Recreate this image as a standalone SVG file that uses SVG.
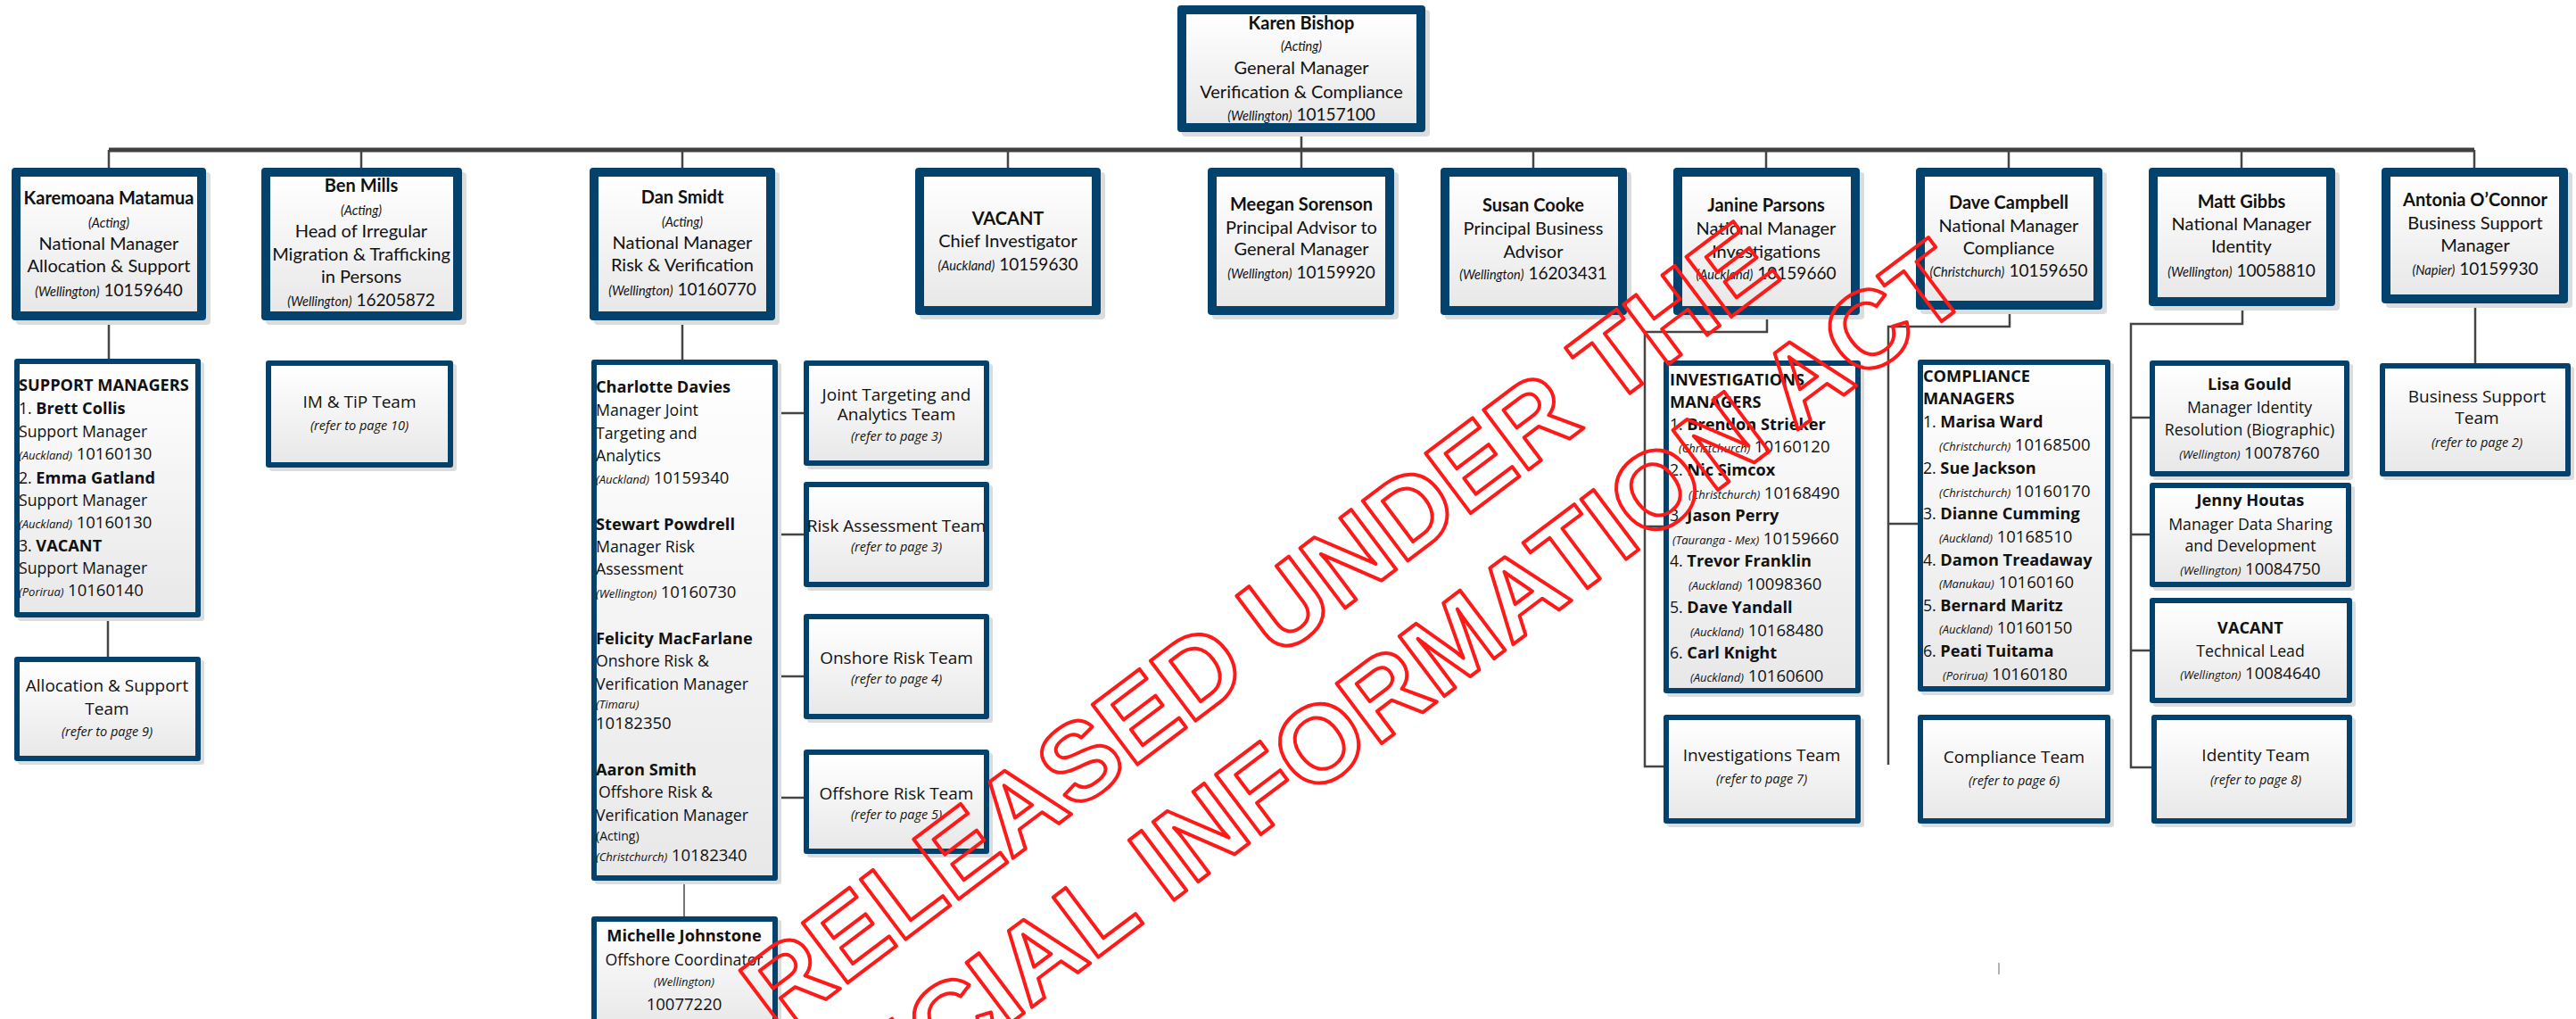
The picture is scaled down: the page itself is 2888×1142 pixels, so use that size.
<svg xmlns="http://www.w3.org/2000/svg" width="2888" height="1142" viewBox="0 0 2888 1142">
<defs>
<linearGradient id="g" x1="0" y1="0" x2="0" y2="1">
<stop offset="0" stop-color="#ffffff"/>
<stop offset="1" stop-color="#e8e8e8"/>
</linearGradient>
<style>
.sh{fill:#dcdcdc}
.ob{fill:#02426c}
.ib{fill:url(#g)}
.ln{stroke:#454545;stroke-width:2.5;fill:none}
.bus{stroke:#404040;stroke-width:5;fill:none}
text{fill:#111}
.c{font-family:Lato,"Liberation Sans",sans-serif;font-size:20px;text-anchor:middle}
.cb{font-weight:bold}
.ci{font-style:italic;font-size:14.5px}
.cd{font-size:19px}
.s{font-family:"Open Sans","Noto Sans",sans-serif;font-size:17.7px}
.m{text-anchor:middle}
.sb{font-weight:bold;font-size:18.2px}
.si{font-style:italic;font-size:13px}
.sd{font-size:18.5px}
.tm{font-size:19px}
.tm .si{font-size:14.5px}
.wm{font-family:"Liberation Sans",Arial,sans-serif;font-weight:bold;font-size:122px;fill:none;stroke:#ff1a1a;stroke-width:4;stroke-linejoin:round;text-anchor:middle}
</style>
</defs>
<rect width="2888" height="1142" fill="#ffffff"/>

<g id="connectors">
<path class="ln" d="M1459 148V168"/>
<path class="bus" d="M122 168H2774"/>
<path class="ln" d="M122 168V188M405 168V188M765 168V188M1130 168V188M1459 168V188M1719 168V188M1980 168V188M2252 168V188M2513 168V188M2774 168V188"/>
<path class="ln" d="M122 359V402M121 692V736"/>
<path class="ln" d="M765 359V403"/>
<path class="ln" d="M767 987V1027" style="stroke:#777;stroke-width:2"/>
<path class="ln" d="M872 463H901M872 599H901M872 758H901M872 894H901"/>
<path class="ln" d="M1981 353V372H1844V859H1866M1844 590H1866"/>
<path class="ln" d="M2253 347V366H2117V857M2117 587H2150"/>
<path class="ln" d="M2514 343V363H2389V860H2412M2389 468H2410M2389 599H2410M2389 729H2410"/>
<path class="ln" d="M2775 340V407"/>
<path d="M2241 1079V1092" stroke="#999" stroke-width="1.5"/>
</g>

<g id="n-karen">
<rect class="sh" x="1325" y="11" width="278" height="142" rx="4"/>
<rect class="ob" x="1320" y="6" width="278" height="142" rx="4"/>
<rect class="ib" x="1330" y="16" width="258" height="122"/>
<text class="c"><tspan class="cb" x="1459" y="33">Karen Bishop</tspan><tspan class="ci" x="1459" y="57">(Acting)</tspan><tspan x="1459" y="83">General Manager</tspan><tspan x="1459" y="110">Verification &amp; Compliance</tspan></text>
<text class="c" x="1459" y="135"><tspan class="ci">(Wellington)</tspan> <tspan class="cd">10157100</tspan></text>
</g>

<g id="n-karemoana">
<rect class="sh" x="18" y="193" width="218" height="171" rx="4"/>
<rect class="ob" x="13" y="188" width="218" height="171" rx="4"/>
<rect class="ib" x="23" y="198" width="198" height="151"/>
<text class="c"><tspan class="cb" x="122" y="229">Karemoana Matamua</tspan><tspan class="ci" x="122" y="255">(Acting)</tspan><tspan x="122" y="280">National Manager</tspan><tspan x="122" y="305">Allocation &amp; Support</tspan></text>
<text class="c" x="122" y="332"><tspan class="ci">(Wellington)</tspan> <tspan class="cd">10159640</tspan></text>
</g>

<g id="n-ben">
<rect class="sh" x="298" y="193" width="225" height="171" rx="4"/>
<rect class="ob" x="293" y="188" width="225" height="171" rx="4"/>
<rect class="ib" x="303" y="198" width="205" height="151"/>
<text class="c"><tspan class="cb" x="405" y="215">Ben Mills</tspan><tspan class="ci" x="405" y="241">(Acting)</tspan><tspan x="405" y="266">Head of Irregular</tspan><tspan x="405" y="292">Migration &amp; Trafficking</tspan><tspan x="405" y="317">in Persons</tspan></text>
<text class="c" x="405" y="343"><tspan class="ci">(Wellington)</tspan> <tspan class="cd">16205872</tspan></text>
</g>

<g id="n-dan">
<rect class="sh" x="666" y="193" width="208" height="171" rx="4"/>
<rect class="ob" x="661" y="188" width="208" height="171" rx="4"/>
<rect class="ib" x="671" y="198" width="188" height="151"/>
<text class="c"><tspan class="cb" x="765" y="228">Dan Smidt</tspan><tspan class="ci" x="765" y="254">(Acting)</tspan><tspan x="765" y="279">National Manager</tspan><tspan x="765" y="304">Risk &amp; Verification</tspan></text>
<text class="c" x="765" y="331"><tspan class="ci">(Wellington)</tspan> <tspan class="cd">10160770</tspan></text>
</g>

<g id="n-vacant-ci">
<rect class="sh" x="1031" y="193" width="208" height="165" rx="4"/>
<rect class="ob" x="1026" y="188" width="208" height="165" rx="4"/>
<rect class="ib" x="1036" y="198" width="188" height="145"/>
<text class="c"><tspan class="cb" x="1130" y="252">VACANT</tspan><tspan x="1130" y="277">Chief Investigator</tspan></text>
<text class="c" x="1130" y="303"><tspan class="ci">(Auckland)</tspan> <tspan class="cd">10159630</tspan></text>
</g>

<g id="n-meegan">
<rect class="sh" x="1359" y="193" width="209" height="165" rx="4"/>
<rect class="ob" x="1354" y="188" width="209" height="165" rx="4"/>
<rect class="ib" x="1364" y="198" width="189" height="145"/>
<text class="c"><tspan class="cb" x="1459" y="236">Meegan Sorenson</tspan><tspan x="1459" y="262">Principal Advisor to</tspan><tspan x="1459" y="286">General Manager</tspan></text>
<text class="c" x="1459" y="312"><tspan class="ci">(Wellington)</tspan> <tspan class="cd">10159920</tspan></text>
</g>

<g id="n-susan">
<rect class="sh" x="1620" y="193" width="209" height="165" rx="4"/>
<rect class="ob" x="1615" y="188" width="209" height="165" rx="4"/>
<rect class="ib" x="1625" y="198" width="189" height="145"/>
<text class="c"><tspan class="cb" x="1719" y="237">Susan Cooke</tspan><tspan x="1719" y="263">Principal Business</tspan><tspan x="1719" y="289">Advisor</tspan></text>
<text class="c" x="1719" y="313"><tspan class="ci">(Wellington)</tspan> <tspan class="cd">16203431</tspan></text>
</g>

<g id="n-janine">
<rect class="sh" x="1881" y="193" width="209" height="165" rx="4"/>
<rect class="ob" x="1876" y="188" width="209" height="165" rx="4"/>
<rect class="ib" x="1886" y="198" width="189" height="145"/>
<text class="c"><tspan class="cb" x="1980" y="237">Janine Parsons</tspan><tspan x="1980" y="263">National Manager</tspan><tspan x="1980" y="289">Investigations</tspan></text>
<text class="c" x="1980" y="313"><tspan class="ci">(Auckland)</tspan> <tspan class="cd">10159660</tspan></text>
</g>

<g id="n-dave">
<rect class="sh" x="2153" y="193" width="209" height="159" rx="4"/>
<rect class="ob" x="2148" y="188" width="209" height="159" rx="4"/>
<rect class="ib" x="2158" y="198" width="189" height="139"/>
<text class="c"><tspan class="cb" x="2252" y="234">Dave Campbell</tspan><tspan x="2252" y="260">National Manager</tspan><tspan x="2252" y="285">Compliance</tspan></text>
<text class="c" x="2252" y="310"><tspan class="ci">(Christchurch)</tspan> <tspan class="cd">10159650</tspan></text>
</g>

<g id="n-matt">
<rect class="sh" x="2414" y="193" width="209" height="155" rx="4"/>
<rect class="ob" x="2409" y="188" width="209" height="155" rx="4"/>
<rect class="ib" x="2419" y="198" width="189" height="135"/>
<text class="c"><tspan class="cb" x="2513" y="233">Matt Gibbs</tspan><tspan x="2513" y="258">National Manager</tspan><tspan x="2513" y="283">Identity</tspan></text>
<text class="c" x="2513" y="310"><tspan class="ci">(Wellington)</tspan> <tspan class="cd">10058810</tspan></text>
</g>

<g id="n-antonia">
<rect class="sh" x="2675" y="193" width="209" height="152" rx="4"/>
<rect class="ob" x="2670" y="188" width="209" height="152" rx="4"/>
<rect class="ib" x="2680" y="198" width="189" height="132"/>
<text class="c"><tspan class="cb" x="2775" y="231">Antonia O’Connor</tspan><tspan x="2775" y="257">Business Support</tspan><tspan x="2775" y="282">Manager</tspan></text>
<text class="c" x="2775" y="308"><tspan class="ci">(Napier)</tspan> <tspan class="cd">10159930</tspan></text>
</g>

<g id="n-support-managers">
<rect class="sh" x="20" y="406" width="209" height="290" rx="3"/>
<rect class="ob" x="16" y="402" width="209" height="290" rx="3"/>
<rect class="ib" x="22" y="408" width="197" height="278"/>
<text class="s"><tspan class="sb" x="21" y="438">SUPPORT MANAGERS</tspan><tspan x="21" y="464">1. <tspan class="sb">Brett Collis</tspan></tspan><tspan x="21" y="490">Support Manager</tspan><tspan x="21" y="542">2. <tspan class="sb">Emma Gatland</tspan></tspan><tspan x="21" y="567">Support Manager</tspan><tspan x="21" y="618">3. <tspan class="sb">VACANT</tspan></tspan><tspan x="21" y="643">Support Manager</tspan></text>
<text class="s" x="21" y="515"><tspan class="si">(Auckland)</tspan>  <tspan class="sd">10160130</tspan></text>
<text class="s" x="21" y="592"><tspan class="si">(Auckland)</tspan>  <tspan class="sd">10160130</tspan></text>
<text class="s" x="21" y="668"><tspan class="si">(Porirua)</tspan>  <tspan class="sd">10160140</tspan></text>
</g>

<g id="n-allocation-team">
<rect class="sh" x="20" y="740" width="209" height="117" rx="3"/>
<rect class="ob" x="16" y="736" width="209" height="117" rx="3"/>
<rect class="ib" x="22" y="742" width="197" height="105"/>
<text class="s m tm"><tspan x="120" y="775">Allocation &amp; Support</tspan><tspan x="120" y="801">Team</tspan><tspan class="si" x="120" y="825">(refer to page 9)</tspan></text>
</g>

<g id="n-imtip-team">
<rect class="sh" x="302" y="408" width="210" height="120" rx="3"/>
<rect class="ob" x="298" y="404" width="210" height="120" rx="3"/>
<rect class="ib" x="304" y="410" width="198" height="108"/>
<text class="s m tm"><tspan x="403" y="457">IM &amp; TiP Team</tspan><tspan class="si" x="403" y="482">(refer to page 10)</tspan></text>
</g>

<g id="n-risk-managers">
<rect class="sh" x="667" y="407" width="209" height="584" rx="3"/>
<rect class="ob" x="663" y="403" width="209" height="584" rx="3"/>
<rect class="ib" x="669" y="409" width="197" height="572"/>
<text class="s"><tspan class="sb" x="668" y="440">Charlotte Davies</tspan><tspan x="668" y="466">Manager Joint</tspan><tspan x="668" y="492">Targeting and</tspan><tspan x="668" y="517">Analytics</tspan><tspan class="sb" x="668" y="594">Stewart Powdrell</tspan><tspan x="668" y="619">Manager Risk</tspan><tspan x="668" y="644">Assessment</tspan><tspan class="sb" x="668" y="722">Felicity MacFarlane</tspan><tspan x="668" y="747">Onshore Risk &amp;</tspan><tspan x="668" y="773">Verification Manager</tspan><tspan class="si" x="668" y="794">(Timaru)</tspan><tspan class="sd" x="668" y="817">10182350</tspan><tspan class="sb" x="668" y="869">Aaron Smith</tspan><tspan x="671" y="894">Offshore Risk &amp;</tspan><tspan x="668" y="920">Verification Manager</tspan><tspan x="668" y="942" style="font-size:14px">(Acting)</tspan></text>
<text class="s" x="668" y="542"><tspan class="si">(Auckland)</tspan>  <tspan class="sd">10159340</tspan></text>
<text class="s" x="668" y="670"><tspan class="si">(Wellington)</tspan>  <tspan class="sd">10160730</tspan></text>
<text class="s" x="668" y="965"><tspan class="si">(Christchurch)</tspan>  <tspan class="sd">10182340</tspan></text>
</g>

<g id="n-michelle">
<rect class="sh" x="667" y="1031" width="209" height="130" rx="3"/>
<rect class="ob" x="663" y="1027" width="209" height="130" rx="3"/>
<rect class="ib" x="669" y="1033" width="197" height="118"/>
<text class="s m"><tspan class="sb" x="767" y="1055">Michelle Johnstone</tspan><tspan x="767" y="1082">Offshore Coordinator</tspan><tspan class="si" x="767" y="1105">(Wellington)</tspan><tspan class="sd" x="767" y="1132">10077220</tspan></text>
</g>

<g id="n-joint-team">
<rect class="sh" x="905" y="408" width="208" height="118" rx="3"/>
<rect class="ob" x="901" y="404" width="208" height="118" rx="3"/>
<rect class="ib" x="907" y="410" width="196" height="106"/>
<text class="s m tm"><tspan x="1005" y="449">Joint Targeting and</tspan><tspan x="1005" y="471">Analytics Team</tspan><tspan class="si" x="1005" y="494">(refer to page 3)</tspan></text>
</g>

<g id="n-riskassess-team">
<rect class="sh" x="905" y="544" width="208" height="118" rx="3"/>
<rect class="ob" x="901" y="540" width="208" height="118" rx="3"/>
<rect class="ib" x="907" y="546" width="196" height="106"/>
<text class="s m tm"><tspan x="1005" y="596">Risk Assessment Team</tspan><tspan class="si" x="1005" y="618">(refer to page 3)</tspan></text>
</g>

<g id="n-onshore-team">
<rect class="sh" x="905" y="692" width="208" height="118" rx="3"/>
<rect class="ob" x="901" y="688" width="208" height="118" rx="3"/>
<rect class="ib" x="907" y="694" width="196" height="106"/>
<text class="s m tm"><tspan x="1005" y="744">Onshore Risk Team</tspan><tspan class="si" x="1005" y="766">(refer to page 4)</tspan></text>
</g>

<g id="n-offshore-team">
<rect class="sh" x="905" y="844" width="208" height="117" rx="3"/>
<rect class="ob" x="901" y="840" width="208" height="117" rx="3"/>
<rect class="ib" x="907" y="846" width="196" height="105"/>
<text class="s m tm"><tspan x="1005" y="896">Offshore Risk Team</tspan><tspan class="si" x="1005" y="918">(refer to page 5)</tspan></text>
</g>

<g id="n-investigations-managers">
<rect class="sh" x="1869" y="408" width="221" height="373" rx="3"/>
<rect class="ob" x="1865" y="404" width="221" height="373" rx="3"/>
<rect class="ib" x="1871" y="410" width="209" height="361"/>
<text class="s"><tspan class="sb" x="1872" y="432">INVESTIGATIONS</tspan><tspan class="sb" x="1872" y="457">MANAGERS</tspan><tspan x="1872" y="482">1. <tspan class="sb">Brendon Strieker</tspan></tspan><tspan x="1872" y="533">2. <tspan class="sb">Nic Simcox</tspan></tspan><tspan x="1872" y="584">3. <tspan class="sb">Jason Perry</tspan></tspan><tspan x="1872" y="635">4. <tspan class="sb">Trevor Franklin</tspan></tspan><tspan x="1872" y="687">5. <tspan class="sb">Dave Yandall</tspan></tspan><tspan x="1872" y="738">6. <tspan class="sb">Carl Knight</tspan></tspan></text>
<text class="s" x="1882" y="507"><tspan class="si">(Christchurch)</tspan> <tspan class="sd">10160120</tspan></text>
<text class="s" x="1893" y="559"><tspan class="si">(Christchurch)</tspan> <tspan class="sd">10168490</tspan></text>
<text class="s" x="1875" y="610"><tspan class="si">(Tauranga - Mex)</tspan> <tspan class="sd">10159660</tspan></text>
<text class="s" x="1893" y="661"><tspan class="si">(Auckland)</tspan>  <tspan class="sd">10098360</tspan></text>
<text class="s" x="1895" y="713"><tspan class="si">(Auckland)</tspan>  <tspan class="sd">10168480</tspan></text>
<text class="s" x="1895" y="764"><tspan class="si">(Auckland)</tspan>  <tspan class="sd">10160600</tspan></text>
</g>

<g id="n-investigations-team">
<rect class="sh" x="1869" y="805" width="221" height="122" rx="3"/>
<rect class="ob" x="1865" y="801" width="221" height="122" rx="3"/>
<rect class="ib" x="1871" y="807" width="209" height="110"/>
<text class="s m tm"><tspan x="1975" y="853">Investigations Team</tspan><tspan class="si" x="1975" y="878">(refer to page 7)</tspan></text>
</g>

<g id="n-compliance-managers">
<rect class="sh" x="2154" y="407" width="216" height="372" rx="3"/>
<rect class="ob" x="2150" y="403" width="216" height="372" rx="3"/>
<rect class="ib" x="2156" y="409" width="204" height="360"/>
<text class="s"><tspan class="sb" x="2156" y="428">COMPLIANCE</tspan><tspan class="sb" x="2156" y="453">MANAGERS</tspan><tspan x="2156" y="479">1. <tspan class="sb">Marisa Ward</tspan></tspan><tspan x="2156" y="531">2. <tspan class="sb">Sue Jackson</tspan></tspan><tspan x="2156" y="582">3. <tspan class="sb">Dianne Cumming</tspan></tspan><tspan x="2156" y="634">4. <tspan class="sb">Damon Treadaway</tspan></tspan><tspan x="2156" y="685">5. <tspan class="sb">Bernard Maritz</tspan></tspan><tspan x="2156" y="736">6. <tspan class="sb">Peati Tuitama</tspan></tspan></text>
<text class="s" x="2174" y="505"><tspan class="si">(Christchurch)</tspan> <tspan class="sd">10168500</tspan></text>
<text class="s" x="2174" y="557"><tspan class="si">(Christchurch)</tspan> <tspan class="sd">10160170</tspan></text>
<text class="s" x="2174" y="608"><tspan class="si">(Auckland)</tspan>  <tspan class="sd">10168510</tspan></text>
<text class="s" x="2174" y="659"><tspan class="si">(Manukau)</tspan>  <tspan class="sd">10160160</tspan></text>
<text class="s" x="2174" y="710"><tspan class="si">(Auckland)</tspan>  <tspan class="sd">10160150</tspan></text>
<text class="s" x="2178" y="762"><tspan class="si">(Porirua)</tspan> <tspan class="sd">10160180</tspan></text>
</g>

<g id="n-compliance-team">
<rect class="sh" x="2154" y="805" width="216" height="122" rx="3"/>
<rect class="ob" x="2150" y="801" width="216" height="122" rx="3"/>
<rect class="ib" x="2156" y="807" width="204" height="110"/>
<text class="s m tm"><tspan x="2258" y="855">Compliance Team</tspan><tspan class="si" x="2258" y="880">(refer to page 6)</tspan></text>
</g>

<g id="n-lisa">
<rect class="sh" x="2414" y="408" width="224" height="130" rx="3"/>
<rect class="ob" x="2410" y="404" width="224" height="130" rx="3"/>
<rect class="ib" x="2416" y="410" width="212" height="118"/>
<text class="s m"><tspan class="sb" x="2522" y="437">Lisa Gould</tspan><tspan x="2522" y="463">Manager Identity</tspan><tspan x="2522" y="488">Resolution (Biographic)</tspan></text>
<text class="s m" x="2522" y="514"><tspan class="si">(Wellington)</tspan>  <tspan class="sd">10078760</tspan></text>
</g>

<g id="n-jenny">
<rect class="sh" x="2414" y="545" width="226" height="117" rx="3"/>
<rect class="ob" x="2410" y="541" width="226" height="117" rx="3"/>
<rect class="ib" x="2416" y="547" width="214" height="105"/>
<text class="s m"><tspan class="sb" x="2523" y="567">Jenny Houtas</tspan><tspan x="2523" y="594">Manager Data Sharing</tspan><tspan x="2523" y="618">and Development</tspan></text>
<text class="s m" x="2523" y="644"><tspan class="si">(Wellington)</tspan>  <tspan class="sd">10084750</tspan></text>
</g>

<g id="n-vacant-tl">
<rect class="sh" x="2414" y="674" width="227" height="118" rx="3"/>
<rect class="ob" x="2410" y="670" width="227" height="118" rx="3"/>
<rect class="ib" x="2416" y="676" width="215" height="106"/>
<text class="s m"><tspan class="sb" x="2523" y="710">VACANT</tspan><tspan x="2523" y="736">Technical Lead</tspan></text>
<text class="s m" x="2523" y="761"><tspan class="si">(Wellington)</tspan>  <tspan class="sd">10084640</tspan></text>
</g>

<g id="n-identity-team">
<rect class="sh" x="2416" y="805" width="225" height="122" rx="3"/>
<rect class="ob" x="2412" y="801" width="225" height="122" rx="3"/>
<rect class="ib" x="2418" y="807" width="213" height="110"/>
<text class="s m tm"><tspan x="2529" y="853">Identity Team</tspan><tspan class="si" x="2529" y="879">(refer to page 8)</tspan></text>
</g>

<g id="n-business-support-team">
<rect class="sh" x="2672" y="411" width="214" height="127" rx="3"/>
<rect class="ob" x="2668" y="407" width="214" height="127" rx="3"/>
<rect class="ib" x="2674" y="413" width="202" height="115"/>
<text class="s m tm"><tspan x="2777" y="451">Business Support</tspan><tspan x="2777" y="475">Team</tspan><tspan class="si" x="2777" y="501">(refer to page 2)</tspan></text>
</g>

<g id="watermark" transform="translate(1410 700) rotate(-37)">
<text class="wm" x="0" y="44">RELEASED UNDER THE</text>
<text class="wm" x="0" y="190">OFFICIAL INFORMATION ACT</text>
</g>
</svg>
